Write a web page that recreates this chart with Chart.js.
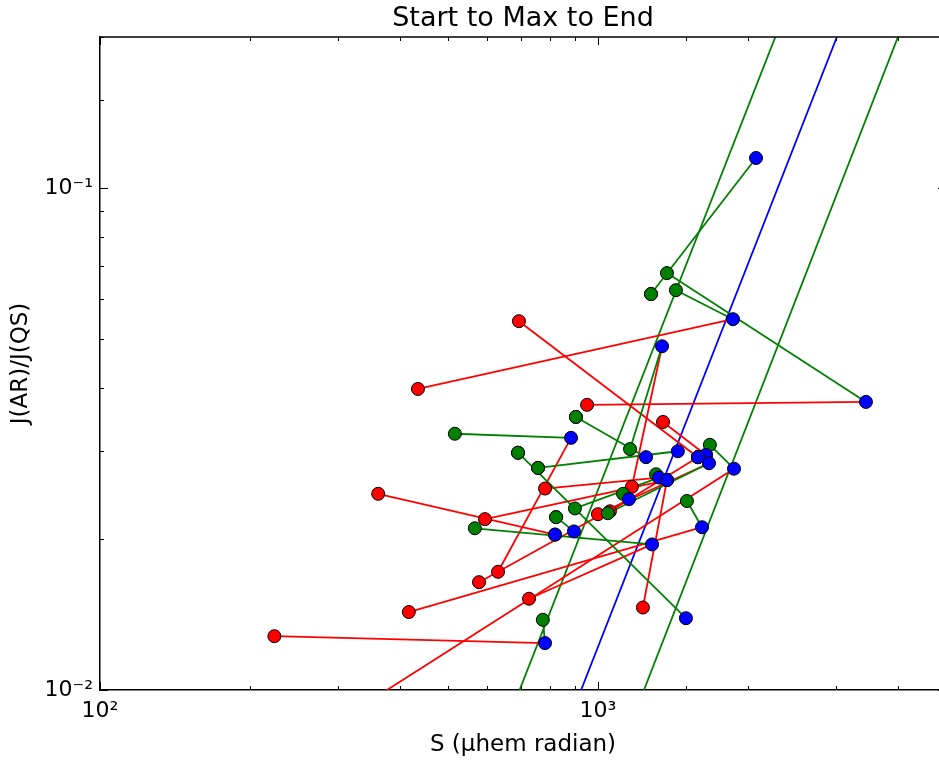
<!DOCTYPE html>
<html>
<head>
<meta charset="utf-8">
<script src="https://cdn.jsdelivr.net/npm/chart.js@4.4.0/dist/chart.umd.min.js"></script>
<style>
  html, body { margin: 0; padding: 0; background: #fff; overflow: hidden; }
</style>
</head>
<body>
<canvas id="myChart" width="960" height="761"></canvas>
<script>
// one entry per track: start (red), max (green), end (blue)
const startX = [694, 435, 951, 1351, 362, 1170, 630, 417, 727, 224, 265, 1231, 1278, 903, 758, 824, 691, 783, 577, 1000, 593, 1057];
const startY = [0.0543, 0.0398, 0.0370, 0.0342, 0.0246, 0.0254, 0.0172, 0.0143, 0.0152, 0.0128, 0.0080, 0.0146, 0.0615, 0.0350, 0.0277, 0.0221, 0.0297, 0.0252, 0.0164, 0.0224, 0.0219, 0.0227];
const maxX = [1588, 1434, 1376, 1648, 820, 1160, 516, 1509, 566, 775, 1678, 1308, 1278, 903, 758, 824, 691, 899, 1123, 1047, 1376, 1588];
const maxY = [0.0291, 0.0626, 0.0677, 0.0294, 0.0204, 0.0302, 0.0324, 0.0238, 0.0210, 0.0138, 0.0308, 0.0269, 0.0615, 0.0350, 0.0277, 0.0221, 0.0297, 0.0230, 0.0246, 0.0225, 0.0262, 0.0291];
const endX = [1588, 1867, 3453, 1648, 820, 1345, 883, 1618, 1284, 783, 1876, 1376, 2077, 1249, 1447, 895, 1502, 1326, 1154, 1671, 1376, 1588];
const endY = [0.0291, 0.0548, 0.0375, 0.0294, 0.0204, 0.0484, 0.0318, 0.0211, 0.0195, 0.0124, 0.0276, 0.0262, 0.1148, 0.0291, 0.0299, 0.0207, 0.0139, 0.0265, 0.0240, 0.0283, 0.0262, 0.0291];

// fitted lines (two points each)
const fitY = [0.01, 0.2];
const blueFitX = [925, 3019];
const greenLeftFitX = [696, 2271];
const greenRightFitX = [1237, 4004];

// axis ranges and decade labels
const xRange = [100, 5000];
const yRange = [0.01, 0.2];
const xTickValues = [100, 1000];
const xTickLabels = ["10\u00b2", "10\u00b3"];
const yTickValues = [0.01, 0.1];
const yTickLabels = ["10\u207b\u00b2", "10\u207b\u00b9"];

const FONT = "'DejaVu Sans', sans-serif";

function decadeLabel(value, values, labels) {
  for (let i = 0; i < values.length; i++) {
    if (Math.abs(value - values[i]) / values[i] < 1e-6) return labels[i];
  }
  return "";
}

function isDecade(v) {
  const l = Math.log10(v);
  return Math.abs(l - Math.round(l)) < 1e-6;
}

function pts(xs, ys) {
  return xs.map((x, i) => ({ x: x, y: ys[i] }));
}

const datasets = [];
// markers first so they end up on top (chart.js draws first dataset last)
datasets.push({
  data: pts(endX, endY), showLine: false, pointRadius: 6.5,
  pointBackgroundColor: "#0000ff", pointBorderColor: "#000", pointBorderWidth: 1
});
datasets.push({
  data: pts(maxX, maxY), showLine: false, pointRadius: 6.5,
  pointBackgroundColor: "#008000", pointBorderColor: "#000", pointBorderWidth: 1
});
datasets.push({
  data: pts(startX, startY), showLine: false, pointRadius: 6.5,
  pointBackgroundColor: "#ff0000", pointBorderColor: "#000", pointBorderWidth: 1
});
// max -> end in green
for (let i = 0; i < endX.length; i++) {
  if (maxX[i] === endX[i] && maxY[i] === endY[i]) continue;
  datasets.push({
    data: [{ x: maxX[i], y: maxY[i] }, { x: endX[i], y: endY[i] }],
    showLine: true, borderColor: "#008000", borderWidth: 1.8, pointRadius: 0
  });
}
// start -> end in red (skipped when the start is the max)
for (let i = 0; i < endX.length; i++) {
  if (startX[i] === maxX[i] && startY[i] === maxY[i]) continue;
  datasets.push({
    data: [{ x: startX[i], y: startY[i] }, { x: endX[i], y: endY[i] }],
    showLine: true, borderColor: "#ff0000", borderWidth: 1.8, pointRadius: 0
  });
}
// fits
datasets.push({ data: pts(blueFitX, fitY), showLine: true, borderColor: "#0000ff", borderWidth: 1.8, pointRadius: 0 });
datasets.push({ data: pts(greenLeftFitX, fitY), showLine: true, borderColor: "#008000", borderWidth: 1.8, pointRadius: 0 });
datasets.push({ data: pts(greenRightFitX, fitY), showLine: true, borderColor: "#008000", borderWidth: 1.8, pointRadius: 0 });

// inward tick marks + top frame line
const inwardTicks = {
  id: "inwardTicks",
  afterDatasetsDraw(chart) {
    const { ctx, chartArea: a, scales } = chart;
    ctx.save();
    ctx.strokeStyle = "#000";
    ctx.lineWidth = 1.5;
    ctx.beginPath();
    ctx.moveTo(a.left, a.top);
    ctx.lineTo(a.right, a.top);
    ctx.stroke();
    ctx.lineWidth = 1;
    ctx.beginPath();
    scales.x.ticks.forEach((t) => {
      const px = Math.round(scales.x.getPixelForValue(t.value)) + 0.5;
      const len = isDecade(t.value) ? 8 : 4;
      ctx.moveTo(px, a.bottom);
      ctx.lineTo(px, a.bottom - len);
      ctx.moveTo(px, a.top);
      ctx.lineTo(px, a.top + len);
    });
    scales.y.ticks.forEach((t) => {
      const py = Math.round(scales.y.getPixelForValue(t.value)) + 0.5;
      const len = isDecade(t.value) ? 8 : 4;
      ctx.moveTo(a.left, py);
      ctx.lineTo(a.left + len, py);
      ctx.moveTo(a.right, py);
      ctx.lineTo(a.right - len, py);
    });
    ctx.stroke();
    ctx.restore();
  }
};

Chart.defaults.color = "#000";
Chart.defaults.font.family = FONT;

const ctx = document.getElementById("myChart").getContext("2d");
const chart = new Chart(ctx, {
  type: "scatter",
  data: { datasets: datasets },
  options: {
    responsive: false,
    animation: false,
    events: [],
    layout: { padding: { left: 0, right: 14, top: 0, bottom: 0 } },
    plugins: {
      legend: { display: false },
      tooltip: { enabled: false },
      title: {
        display: true,
        fullSize: false,
        text: "Start to Max to End",
        color: "#000",
        font: { size: 27, weight: "normal", family: FONT },
        padding: { top: 2.6, bottom: 2 }
      }
    },
    scales: {
      x: {
        type: "logarithmic",
        min: xRange[0],
        max: xRange[1],
        grid: { display: false, drawTicks: false },
        border: { display: true, color: "#000", width: 1.5 },
        ticks: {
          autoSkip: false,
          maxRotation: 0,
          padding: 8,
          font: { size: 22, family: FONT },
          color: "#000",
          callback: (v) => decadeLabel(v, xTickValues, xTickLabels)
        },
        title: {
          display: true,
          text: "S (\u03bchem radian)",
          color: "#000",
          font: { size: 23, family: FONT },
          padding: { top: 0, bottom: 2 }
        },
        afterFit: (scale) => { scale.height = 71; }
      },
      y: {
        type: "logarithmic",
        min: yRange[0],
        max: yRange[1],
        grid: { display: false, drawTicks: false },
        border: { display: true, color: "#000", width: 1.5 },
        ticks: {
          autoSkip: false,
          padding: 7,
          font: { size: 22, family: FONT },
          color: "#000",
          callback: (v) => decadeLabel(v, yTickValues, yTickLabels)
        },
        title: {
          display: true,
          text: "J(AR)/J(QS)",
          color: "#000",
          font: { size: 23, family: FONT },
          padding: { top: 7, bottom: 0 }
        },
        afterFit: (scale) => { scale.width = 100; }
      }
    }
  },
  plugins: [inwardTicks]
});
</script>
</body>
</html>
